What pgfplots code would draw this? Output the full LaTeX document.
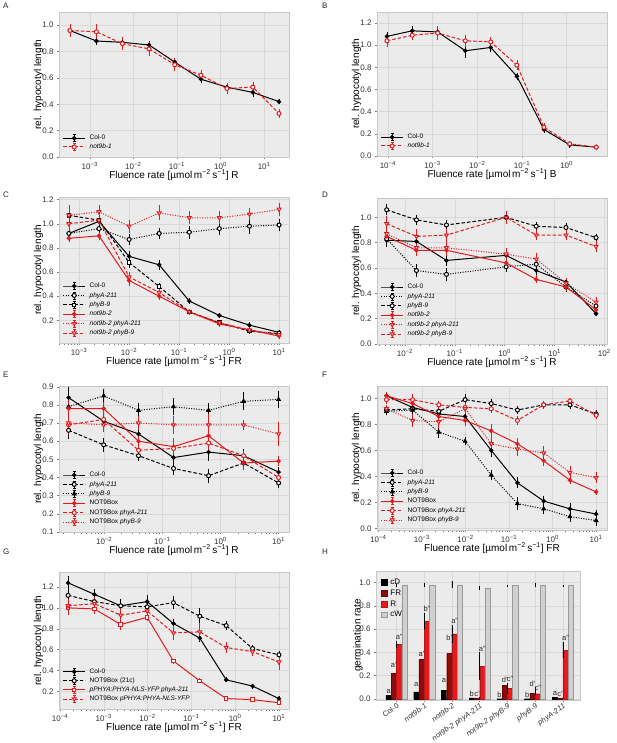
\documentclass[border=0pt]{standalone}
\usepackage{pgfplots}
\pgfplotsset{compat=1.18}
\usepackage{pgfplotstable}
\usepackage{fontspec}
\setmainfont{Liberation Sans}
\definecolor{bgc}{HTML}{EBEBEB}
\definecolor{gridc}{HTML}{D8D8D8}
\definecolor{framec}{HTML}{C8C8C8}
\definecolor{rd}{HTML}{E41A1C}
\definecolor{drd}{HTML}{8E0B0B}
\definecolor{cwc}{HTML}{D0D0D0}
\newcommand{\fl}[1]{Fluence rate [µmol\,m\textsuperscript{−2}\,s\textsuperscript{−1}] #1}
\newcommand{\tn}[1]{10\textsuperscript{−#1}}
\newcommand{\tp}[1]{10\textsuperscript{#1}}

\pgfplotstableread{
x y e l
0 0.03 0.01 a
1 0.06 0.035 a
2 0.075 0.06 a
3 0.01 0.005 b
4 0.002 0 b
5 0.002 0 b
6 0.015 0.005 a
}\tcD
\pgfplotstableread{
x y e l
0 0.22 0.04 a'
1 0.34 0.02 a'
2 0.39 0.10 b'
3 0.005 0.003 c'
4 0.12 0.01 d'
5 0.05 0.05 d'
6 0.005 0.003 c'
}\tFR
\pgfplotstableread{
x y e l
0 0.47 0.03 a''
1 0.67 0.07 b''
2 0.56 0.08 a''
3 0.28 0.12 a''
4 0.09 0.05 c''
5 0.045 0.02 c''
6 0.42 0.07 a''
}\tR
\pgfplotstableread{
x y e
0 0.975 0.01
1 0.98 0.02
2 0.98 0.03
3 0.955 0.02
4 0.975 0.003
5 0.98 0.02
6 0.975 0.005
}\tcW

\pgfplotsset{
 hbase/.style={scale only axis,
  axis background/.style={fill=bgc},
  grid=major, major grid style={draw=gridc, line width=0.5pt},
  axis line style={draw=framec, line width=0.5pt},
  tick style={draw=black!50, line width=0.4pt},
  major tick length=2pt, minor tick length=1.5pt, tick align=outside, tick pos=left,
  ticklabel style={font=\fontsize{8}{9}\selectfont, text=black!80},
  /pgf/number format/assume math mode=true,
  yticklabel style={/pgf/number format/fixed, /pgf/number format/fixed zerofill, /pgf/number format/precision=1},
  label style={font=\fontsize{10}{12}\selectfont},
  every axis y label/.style={at={(axis description cs:-0.089,0.5)}, rotate=90, anchor=center},
  every axis x label/.style={at={(axis description cs:0.5,0)}, anchor=base, yshift=-21.5pt},
 },
 hpanel/.style={hbase, width=230pt, height=145pt,
  minor xtick={2e-5,3e-5,4e-5,5e-5,6e-5,7e-5,8e-5,9e-5,2e-4,3e-4,4e-4,5e-4,6e-4,7e-4,8e-4,9e-4,2e-3,3e-3,4e-3,5e-3,6e-3,7e-3,8e-3,9e-3,0.02,0.03,0.04,0.05,0.06,0.07,0.08,0.09,0.2,0.3,0.4,0.5,0.6,0.7,0.8,0.9,2,3,4,5,6,7,8,9,20,30,40,50,60,70,80,90},
  ylabel={rel. hypocotyl length},
  legend cell align=left,
  legend style={draw=none, fill=none, font=\fontsize{6.5}{7.5}\selectfont, at={(axis description cs:0,0)}, anchor=south west, xshift=2.5pt, yshift=5pt, inner sep=1pt, row sep=1.8pt, nodes={inner sep=0.5pt, text height=4.8pt, text depth=1.5pt}, /tikz/every odd column/.append style={column sep=3.5pt}},
  legend image code/.code={
    \draw[##1, solid, mark=none, line width=0.6pt] (11pt,-3.5pt)--(11pt,3.5pt) (9.5pt,-3.5pt)--(12.5pt,-3.5pt) (9.5pt,3.5pt)--(12.5pt,3.5pt);
    \draw[mark repeat=2, mark phase=2, ##1] plot coordinates {(0pt,0pt) (11pt,0pt) (22pt,0pt)};},
 },
 eb/.style={error bars/y dir=both, error bars/y explicit, error bars/error bar style={solid, line width=0.6pt}, error bars/error mark options={solid, line width=0.6pt, mark size=1.5pt}},
 kS/.style={black, line width=1pt, solid, mark=*, mark size=1.7pt, mark options={solid, fill=black}, eb},
 kDotO/.style={black, line width=1pt, dash pattern=on 1pt off 1.5pt, mark=*, mark size=2pt, mark options={solid, fill=white}, eb},
 kDashO/.style={black, line width=1pt, dash pattern=on 3.5pt off 2pt, mark=*, mark size=2pt, mark options={solid, fill=white}, eb},
 kDashSq/.style={black, line width=1pt, dash pattern=on 3.5pt off 2pt, mark=square*, mark size=1.8pt, mark options={solid, fill=white}, eb},
 kDotTri/.style={black, line width=1pt, dash pattern=on 1pt off 1.5pt, mark=triangle*, mark size=2pt, mark options={solid, fill=black}, eb},
 rS/.style={rd, line width=1pt, solid, mark=*, mark size=1.7pt, mark options={solid, fill=rd}, eb},
 rDotT/.style={rd, line width=1pt, dash pattern=on 1pt off 1.5pt, mark=triangle*, mark size=2.2pt, mark options={solid, fill=white, rotate=180}, eb},
 rDashT/.style={rd, line width=1pt, dash pattern=on 3.5pt off 2pt, mark=triangle*, mark size=2.2pt, mark options={solid, fill=white, rotate=180}, eb},
 rDashO/.style={rd, line width=1pt, dash pattern=on 3.5pt off 2pt, mark=*, mark size=2pt, mark options={solid, fill=white}, eb},
 rSSq/.style={rd, line width=1pt, solid, mark=square*, mark size=1.8pt, mark options={solid, fill=white}, eb},
 lett/.style={draw=none, mark=none, forget plot, nodes near coords, point meta=explicit symbolic,
    nodes near coords style={font=\fontsize{7.5}{8}\selectfont, text=black!85, anchor=south, inner sep=0.8pt}},
}

\begin{document}
\begin{tikzpicture}
\useasboundingbox (0,0) rectangle (617pt,-743pt);
\tikzset{plab/.style={anchor=north west, inner sep=0pt, font=\fontsize{8}{9}\selectfont, text=black!85}}
\node[plab] at (3pt,-3pt) {A};
\node[plab] at (322pt,-3pt) {B};
\node[plab] at (3pt,-192pt) {C};
\node[plab] at (322pt,-192pt) {D};
\node[plab] at (3pt,-372pt) {E};
\node[plab] at (322pt,-372pt) {F};
\node[plab] at (3pt,-549pt) {G};
\node[plab] at (322pt,-549pt) {H};

% ---------------- A
\begin{axis}[xmode=log, log basis x=10, hpanel, at={(59pt,-12pt)}, anchor=north west, height=145pt,
  xmin=1.97e-4, xmax=37.2, ymin=0, ymax=1.10,
  xtick={1e-3,1e-2,1e-1,1,10}, xticklabels={\tn{3},\tn{2},\tn{1},\tp{0},\tp{1}},
  ytick={0,0.2,0.4,0.6,0.8,1.0},
  xlabel={\fl{R}}, legend style={row sep=1.2pt}]
\addplot[kS] coordinates {(3.5e-4,0.96)+-(0,0.03) (1.42e-3,0.88)+-(0,0.02) (5.6e-3,0.87)+-(0,0.02) (0.0229,0.85)+-(0,0.02) (0.089,0.72)+-(0,0.02) (0.355,0.59)+-(0,0.02) (1.40,0.53)+-(0,0.015) (5.5,0.49)+-(0,0.02) (21.9,0.42)+-(0,0.01)};
\addlegendentry{Col-0}
\addplot[rDashO] coordinates {(3.5e-4,0.96)+-(0,0.04) (1.42e-3,0.95)+-(0,0.05) (5.6e-3,0.86)+-(0,0.04) (0.0229,0.82)+-(0,0.04) (0.089,0.70)+-(0,0.04) (0.355,0.62)+-(0,0.03) (1.40,0.52)+-(0,0.03) (5.5,0.53)+-(0,0.03) (21.9,0.33)+-(0,0.02)};
\addlegendentry{\textit{not9b-1}}
\end{axis}

% ---------------- B
\begin{axis}[xmode=log, log basis x=10, hpanel, at={(377pt,-12pt)}, anchor=north west, height=144pt,
  xmin=5.7e-5, xmax=8.0, ymin=0, ymax=1.30,
  xtick={1e-4,1e-3,1e-2,1e-1,1}, xticklabels={\tn{4},\tn{3},\tn{2},\tn{1},\tp{0}},
  ytick={0,0.2,0.4,0.6,0.8,1.0,1.2},
  xlabel={\fl{B}}, legend style={row sep=1.2pt}]
\addplot[kS] coordinates {(9.5e-5,1.08)+-(0,0.03) (3.5e-4,1.13)+-(0,0.03) (1.3e-3,1.12)+-(0,0.03) (5.4e-3,0.95)+-(0,0.05) (0.020,0.98)+-(0,0.03) (0.077,0.72)+-(0,0.02) (0.31,0.24)+-(0,0.02) (1.17,0.10)+-(0,0.01) (4.6,0.08)+-(0,0.01)};
\addlegendentry{Col-0}
\addplot[rDashO] coordinates {(9.5e-5,1.04)+-(0,0.04) (3.5e-4,1.09)+-(0,0.03) (1.3e-3,1.11)+-(0,0.05) (5.4e-3,1.04)+-(0,0.04) (0.020,1.03)+-(0,0.03) (0.077,0.82)+-(0,0.03) (0.31,0.26)+-(0,0.02) (1.17,0.11)+-(0,0.01) (4.6,0.08)+-(0,0.01)};
\addlegendentry{\textit{not9b-1}}
\end{axis}

% ---------------- C
\begin{axis}[xmode=log, log basis x=10, hpanel, at={(59pt,-197pt)}, anchor=north west, height=146pt,
  xmin=3.97e-4, xmax=15.8, ymin=0.012, ymax=1.222,
  xtick={1e-3,1e-2,1e-1,1,10}, xticklabels={\tn{3},\tn{2},\tn{1},\tp{0},\tp{1}},
  ytick={0.2,0.4,0.6,0.8,1.0,1.2},
  xlabel={\fl{FR}}]
\addplot[kS] coordinates {(0.000625,0.92)+-(0,0.03) (0.0025,1.02)+-(0,0.02) (0.01,0.73)+-(0,0.03) (0.04,0.66)+-(0,0.03) (0.16,0.36)+-(0,0.01) (0.64,0.24)+-(0,0.01) (2.56,0.16)+-(0,0.01) (10,0.10)+-(0,0.01)};
\addlegendentry{Col-0}
\addplot[kDotO] coordinates {(0.000625,0.92)+-(0,0.04) (0.0025,0.96)+-(0,0.04) (0.01,0.87)+-(0,0.03) (0.04,0.92)+-(0,0.03) (0.16,0.93)+-(0,0.04) (0.64,0.96)+-(0,0.04) (2.56,0.98)+-(0,0.05) (10,0.99)+-(0,0.04)};
\addlegendentry{\textit{phyA-211}}
\addplot[kDashSq] coordinates {(0.000625,1.07)+-(0,0.03) (0.0025,1.03)+-(0,0.02) (0.01,0.68)+-(0,0.03) (0.04,0.48)+-(0,0.02) (0.16,0.27)+-(0,0.01) (0.64,0.18)+-(0,0.01) (2.56,0.11)+-(0,0.01) (10,0.09)+-(0,0.01)};
\addlegendentry{\textit{phyB-9}}
\addplot[rS] coordinates {(0.000625,0.88)+-(0,0.02) (0.0025,0.90)+-(0,0.02) (0.01,0.53)+-(0,0.03) (0.04,0.40)+-(0,0.02) (0.16,0.27)+-(0,0.01) (0.64,0.17)+-(0,0.01) (2.56,0.12)+-(0,0.01) (10,0.07)+-(0,0.01)};
\addlegendentry{\textit{not9b-2}}
\addplot[rDotT] coordinates {(0.000625,1.07)+-(0,0.07) (0.0025,1.10)+-(0,0.04) (0.01,0.98)+-(0,0.04) (0.04,1.09)+-(0,0.05) (0.16,1.05)+-(0,0.04) (0.64,1.05)+-(0,0.04) (2.56,1.08)+-(0,0.04) (10,1.12)+-(0,0.04)};
\addlegendentry{\textit{not9b-2 phyA-211}}
\addplot[rDashT] coordinates {(0.000625,1.00)+-(0,0.05) (0.0025,1.03)+-(0,0.03) (0.01,0.56)+-(0,0.03) (0.04,0.43)+-(0,0.02) (0.16,0.27)+-(0,0.01) (0.64,0.18)+-(0,0.01) (2.56,0.12)+-(0,0.01) (10,0.08)+-(0,0.01)};
\addlegendentry{\textit{not9b-2 phyB-9}}
\end{axis}

% ---------------- D
\begin{axis}[xmode=log, log basis x=10, hpanel, at={(377pt,-198pt)}, anchor=north west, height=146pt,
  xmin=2.75e-3, xmax=113, ymin=0, ymax=1.153,
  xtick={1e-2,1e-1,1,10,100}, xticklabels={\tn{2},\tn{1},\tp{0},\tp{1},\tp{2}},
  ytick={0,0.2,0.4,0.6,0.8,1.0},
  xlabel={\fl{R}}]
\addplot[kS] coordinates {(0.0043,0.82)+-(0,0.04) (0.017,0.81)+-(0,0.02) (0.068,0.66)+-(0,0.03) (1.07,0.70)+-(0,0.02) (4.3,0.58)+-(0,0.03) (17,0.49)+-(0,0.02) (68,0.24)+-(0,0.01)};
\addlegendentry{Col-0}
\addplot[kDotO] coordinates {(0.0043,0.83)+-(0,0.04) (0.017,0.58)+-(0,0.04) (0.068,0.55)+-(0,0.04) (1.07,0.61)+-(0,0.03) (4.3,0.63)+-(0,0.03) (17,0.45)+-(0,0.03) (68,0.30)+-(0,0.03)};
\addlegendentry{\textit{phyA-211}}
\addplot[kDashO] coordinates {(0.0043,1.06)+-(0,0.03) (0.017,0.98)+-(0,0.03) (0.068,0.94)+-(0,0.03) (1.07,1.00)+-(0,0.03) (4.3,0.93)+-(0,0.02) (17,0.92)+-(0,0.02) (68,0.84)+-(0,0.02)};
\addlegendentry{\textit{phyB-9}}
\addplot[rS] coordinates {(0.0043,0.85)+-(0,0.03) (0.017,0.74)+-(0,0.03) (0.068,0.74)+-(0,0.03) (1.07,0.64)+-(0,0.02) (4.3,0.51)+-(0,0.02) (17,0.45)+-(0,0.02) (68,0.27)+-(0,0.02)};
\addlegendentry{\textit{not9b-2}}
\addplot[rDotT] coordinates {(0.0043,0.87)+-(0,0.04) (0.017,0.76)+-(0,0.04) (0.068,0.76)+-(0,0.04) (1.07,0.71)+-(0,0.04) (4.3,0.67)+-(0,0.04) (17,0.48)+-(0,0.03) (68,0.33)+-(0,0.03)};
\addlegendentry{\textit{not9b-2 phyA-211}}
\addplot[rDashT] coordinates {(0.0043,0.95)+-(0,0.05) (0.017,0.85)+-(0,0.05) (0.068,0.86)+-(0,0.04) (1.07,1.00)+-(0,0.04) (4.3,0.86)+-(0,0.03) (17,0.86)+-(0,0.03) (68,0.77)+-(0,0.03)};
\addlegendentry{\textit{not9b-2 phyB-9}}
\end{axis}

% ---------------- E
\begin{axis}[xmode=log, log basis x=10, hpanel, at={(59pt,-386pt)}, anchor=north west, height=146pt,
  xmin=1.67e-3, xmax=15.1, ymin=0.1, ymax=0.904,
  xtick={1e-2,1e-1,1,10}, xticklabels={\tn{2},\tn{1},\tp{0},\tp{1}},
  ytick={0.1,0.2,0.3,0.4,0.5,0.6,0.7,0.8,0.9},
  xlabel={\fl{R}}]
\addplot[kS] coordinates {(0.00244,0.84)+-(0,0.05) (0.0098,0.71)+-(0,0.03) (0.039,0.64)+-(0,0.03) (0.156,0.51)+-(0,0.03) (0.625,0.54)+-(0,0.04) (2.5,0.52)+-(0,0.03) (10,0.43)+-(0,0.02)};
\addlegendentry{Col-0}
\addplot[kDashO] coordinates {(0.00244,0.66)+-(0,0.04) (0.0098,0.58)+-(0,0.03) (0.039,0.52)+-(0,0.02) (0.156,0.45)+-(0,0.03) (0.625,0.41)+-(0,0.03) (2.5,0.48)+-(0,0.03) (10,0.37)+-(0,0.02)};
\addlegendentry{\textit{phyA-211}}
\addplot[kDotTri] coordinates {(0.00244,0.79)+-(0,0.04) (0.0098,0.85)+-(0,0.03) (0.039,0.77)+-(0,0.03) (0.156,0.79)+-(0,0.04) (0.625,0.77)+-(0,0.03) (2.5,0.82)+-(0,0.04) (10,0.83)+-(0,0.04)};
\addlegendentry{\textit{phyB-9}}
\addplot[rS] coordinates {(0.00244,0.78)+-(0,0.04) (0.0098,0.78)+-(0,0.03) (0.039,0.60)+-(0,0.03) (0.156,0.57)+-(0,0.04) (0.625,0.63)+-(0,0.04) (2.5,0.48)+-(0,0.03) (10,0.49)+-(0,0.02)};
\addlegendentry{NOT9Box}
\addplot[rDashO] coordinates {(0.00244,0.69)+-(0,0.04) (0.0098,0.72)+-(0,0.03) (0.039,0.55)+-(0,0.03) (0.156,0.56)+-(0,0.03) (0.625,0.59)+-(0,0.04) (2.5,0.52)+-(0,0.02) (10,0.40)+-(0,0.02)};
\addlegendentry{NOT9Box \textit{phyA-211}}
\addplot[rDotT] coordinates {(0.00244,0.70)+-(0,0.04) (0.0098,0.69)+-(0,0.03) (0.039,0.70)+-(0,0.03) (0.156,0.69)+-(0,0.04) (0.625,0.69)+-(0,0.05) (2.5,0.69)+-(0,0.02) (10,0.64)+-(0,0.06)};
\addlegendentry{NOT9Box \textit{phyB-9}}
\end{axis}

% ---------------- F
\begin{axis}[xmode=log, log basis x=10, hpanel, at={(377pt,-386pt)}, anchor=north west, height=144pt,
  xmin=9.3e-5, xmax=17.8, ymin=-0.013, ymax=1.095,
  xtick={1e-4,1e-3,1e-2,1e-1,1,10}, xticklabels={\tn{4},\tn{3},\tn{2},\tn{1},\tp{0},\tp{1}},
  ytick={0,0.2,0.4,0.6,0.8,1.0},
  xlabel={\fl{FR}}]
\addplot[kS] coordinates {(1.53e-4,1.02)+-(0,0.02) (6.1e-4,0.93)+-(0,0.03) (2.44e-3,0.88)+-(0,0.03) (9.8e-3,0.86)+-(0,0.02) (0.039,0.60)+-(0,0.04) (0.156,0.35)+-(0,0.03) (0.625,0.21)+-(0,0.03) (2.5,0.15)+-(0,0.03) (10,0.11)+-(0,0.02)};
\addlegendentry{Col-0}
\addplot[kDashO] coordinates {(1.53e-4,0.91)+-(0,0.02) (6.1e-4,0.92)+-(0,0.03) (2.44e-3,0.90)+-(0,0.02) (9.8e-3,0.99)+-(0,0.03) (0.039,0.96)+-(0,0.02) (0.156,0.91)+-(0,0.02) (0.625,0.95)+-(0,0.02) (2.5,0.95)+-(0,0.02) (10,0.88)+-(0,0.02)};
\addlegendentry{\textit{phyA-211}}
\addplot[kDotTri] coordinates {(1.53e-4,0.90)+-(0,0.02) (6.1e-4,0.91)+-(0,0.04) (2.44e-3,0.74)+-(0,0.03) (9.8e-3,0.67)+-(0,0.02) (0.039,0.41)+-(0,0.03) (0.156,0.19)+-(0,0.04) (0.625,0.15)+-(0,0.03) (2.5,0.09)+-(0,0.03) (10,0.06)+-(0,0.03)};
\addlegendentry{\textit{phyB-9}}
\addplot[rS] coordinates {(1.53e-4,1.02)+-(0,0.02) (6.1e-4,0.96)+-(0,0.02) (2.44e-3,0.86)+-(0,0.03) (9.8e-3,0.83)+-(0,0.03) (0.039,0.75)+-(0,0.04) (0.156,0.65)+-(0,0.03) (0.625,0.52)+-(0,0.03) (2.5,0.37)+-(0,0.02) (10,0.28)+-(0,0.01)};
\addlegendentry{NOT9Box}
\addplot[rDashO] coordinates {(1.53e-4,0.99)+-(0,0.02) (6.1e-4,0.99)+-(0,0.03) (2.44e-3,0.95)+-(0,0.02) (9.8e-3,0.93)+-(0,0.02) (0.039,0.92)+-(0,0.02) (0.156,0.83)+-(0,0.02) (0.625,0.95)+-(0,0.02) (2.5,0.98)+-(0,0.01) (10,0.87)+-(0,0.02)};
\addlegendentry{NOT9Box \textit{phyA-211}}
\addplot[rDotT] coordinates {(1.53e-4,0.92)+-(0,0.02) (6.1e-4,0.83)+-(0,0.04) (2.44e-3,0.82)+-(0,0.04) (9.8e-3,0.92)+-(0,0.03) (0.039,0.65)+-(0,0.04) (0.156,0.61)+-(0,0.04) (0.625,0.58)+-(0,0.04) (2.5,0.43)+-(0,0.04) (10,0.39)+-(0,0.03)};
\addlegendentry{NOT9Box \textit{phyB-9}}
\end{axis}

% ---------------- G
\begin{axis}[xmode=log, log basis x=10, hpanel, at={(59pt,-572pt)}, anchor=north west, height=137pt,
  xmin=9.5e-5, xmax=17.0, ymin=0.03, ymax=1.344,
  xtick={1e-4,1e-3,1e-2,1e-1,1,10}, xticklabels={\tn{4},\tn{3},\tn{2},\tn{1},\tp{0},\tp{1}},
  ytick={0.2,0.4,0.6,0.8,1.0,1.2},
  xlabel={\fl{FR}}, legend style={row sep=1.5pt}]
\addplot[kS] coordinates {(1.53e-4,1.24)+-(0,0.05) (6.1e-4,1.13)+-(0,0.04) (2.44e-3,1.02)+-(0,0.04) (9.8e-3,1.06)+-(0,0.05) (0.039,0.85)+-(0,0.03) (0.156,0.71)+-(0,0.02) (0.625,0.31)+-(0,0.01) (2.5,0.25)+-(0,0.01) (10,0.13)+-(0,0.01)};
\addlegendentry{Col-0}
\addplot[kDashO] coordinates {(1.53e-4,1.12)+-(0,0.05) (6.1e-4,1.06)+-(0,0.04) (2.44e-3,1.02)+-(0,0.05) (9.8e-3,1.01)+-(0,0.04) (0.039,1.05)+-(0,0.05) (0.156,0.92)+-(0,0.06) (0.625,0.83)+-(0,0.03) (2.5,0.61)+-(0,0.02) (10,0.55)+-(0,0.02)};
\addlegendentry{NOT9Box (21c)}
\addplot[rSSq] coordinates {(1.53e-4,1.00)+-(0,0.05) (6.1e-4,0.99)+-(0,0.03) (2.44e-3,0.84)+-(0,0.04) (9.8e-3,0.91)+-(0,0.02) (0.039,0.49)+-(0,0.01) (0.156,0.30)+-(0,0.01) (0.625,0.13)+-(0,0.01) (2.5,0.12)+-(0,0.01) (10,0.09)+-(0,0.01)};
\addlegendentry{\textit{pPHYA:PHYA-NLS-YFP phyA-211}}
\addplot[rDashT] coordinates {(1.53e-4,1.02)+-(0,0.05) (6.1e-4,1.04)+-(0,0.05) (2.44e-3,0.93)+-(0,0.05) (9.8e-3,0.97)+-(0,0.03) (0.039,0.76)+-(0,0.05) (0.156,0.77)+-(0,0.07) (0.625,0.62)+-(0,0.04) (2.5,0.58)+-(0,0.03) (10,0.48)+-(0,0.06)};
\addlegendentry{NOT9Box \textit{pPHYA:PHYA-NLS-YFP}}
\end{axis}

% ---------------- H
\begin{axis}[hbase, at={(376pt,-571pt)}, anchor=north west, width=204pt, height=129pt,
  xmin=-0.74, xmax=6.62, ymin=-0.009, ymax=1.10,
  xtick={0,1,2,3,4,5,6},
  xticklabels={Col-0,\textit{not9b-1},\textit{not9b-2},\textit{not9b-2 phyA-211},\textit{not9b-2 phyB-9},\textit{phyB-9},\textit{phyA-211}},
  x tick label style={rotate=35, anchor=north east, inner sep=0.5pt, font=\fontsize{7.5}{8}\selectfont},
  ytick={0,0.2,0.4,0.6,0.8,1.0},
  every axis y label/.style={at={(axis description cs:-0.088,0.5)}, rotate=90, anchor=center},
  ylabel={germination rate},
  legend cell align=left,
  legend style={draw=none, fill=none, font=\fontsize{8}{9}\selectfont, at={(axis description cs:0,1)}, anchor=north west, xshift=4pt, yshift=-6pt, inner sep=1pt, row sep=2.5pt, nodes={inner sep=0.6pt, text height=5.6pt, text depth=1.5pt}, /tikz/every odd column/.append style={column sep=2.5pt}},
  legend image code/.code={\draw[#1] (0pt,-2.8pt) rectangle (5.6pt,2.8pt);},
  bar width=0.19,
  berr/.style={error bars/y dir=both, error bars/y explicit, error bars/error mark=none, error bars/error bar style={black, line width=0.6pt}},
  ]
\addplot[ybar, bar shift=-0.285, fill=black, draw=black, line width=0.3pt, berr] table[x=x, y=y, y error=e] {\tcD};
\addlegendentry{cD}
\addplot[ybar, bar shift=-0.095, fill=drd, draw=drd!70!black, line width=0.3pt, berr] table[x=x, y=y, y error=e] {\tFR};
\addlegendentry{FR}
\addplot[ybar, bar shift=0.095, fill=rd, draw=rd!80!black, line width=0.3pt, berr] table[x=x, y=y, y error=e] {\tR};
\addlegendentry{R}
\addplot[ybar, bar shift=0.285, fill=cwc, draw=black!40, line width=0.5pt, berr] table[x=x, y=y, y error=e] {\tcW};
\addlegendentry{cW}
\addplot[lett] table[x expr=\thisrow{x}-0.285, y expr=\thisrow{y}+\thisrow{e}, meta=l] {\tcD};
\addplot[lett] table[x expr=\thisrow{x}-0.095, y expr=\thisrow{y}+\thisrow{e}, meta=l] {\tFR};
\addplot[lett] table[x expr=\thisrow{x}+0.095, y expr=\thisrow{y}+\thisrow{e}, meta=l] {\tR};
\end{axis}
\end{tikzpicture}
\end{document}
